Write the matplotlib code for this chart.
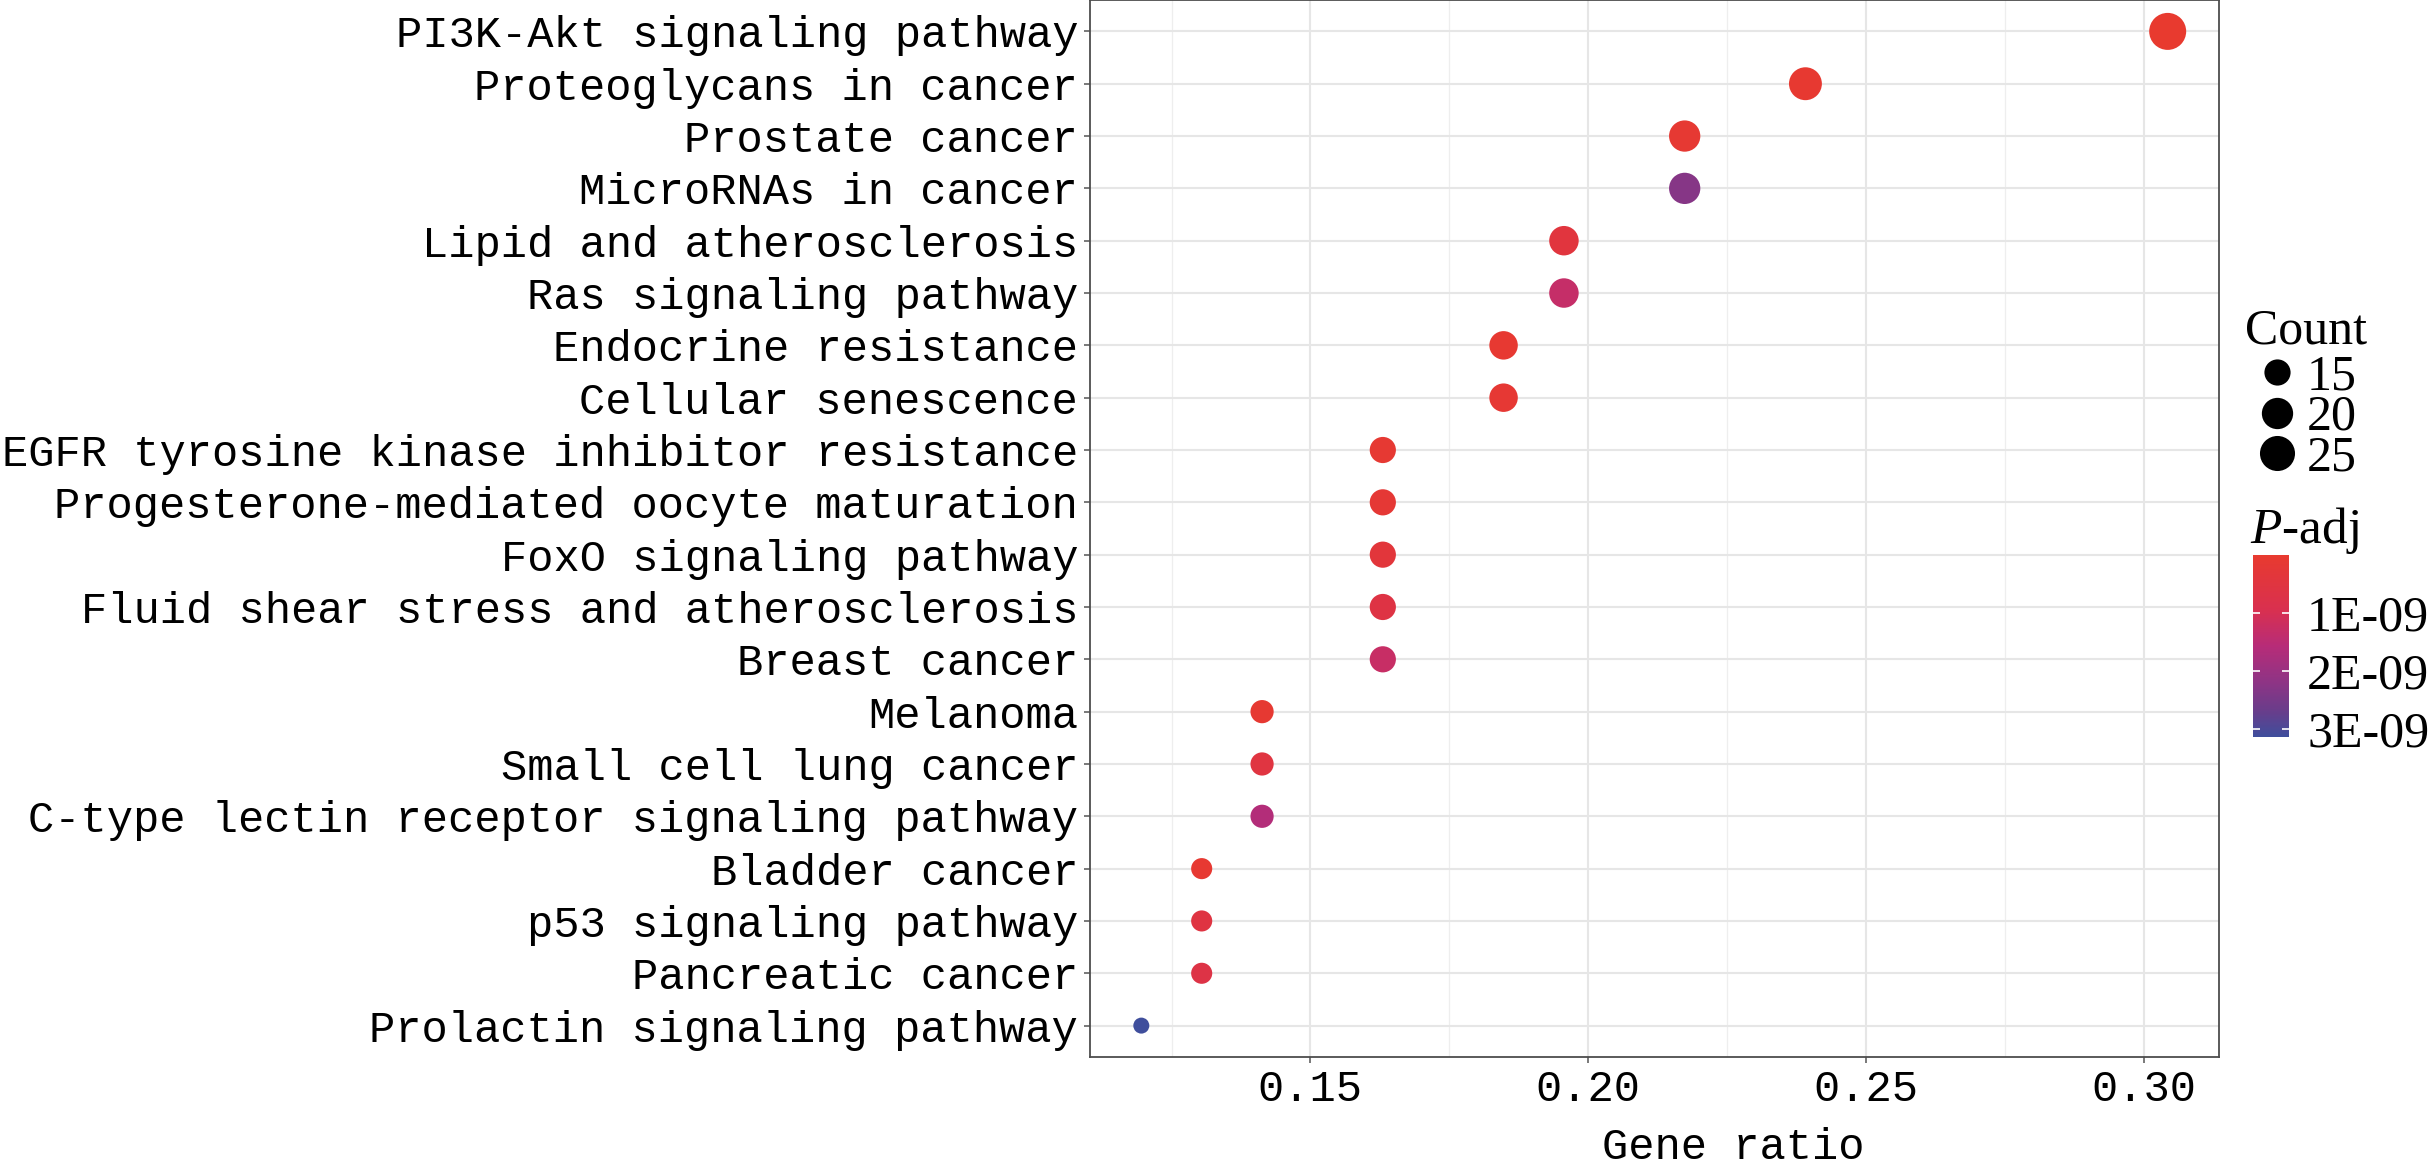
import numpy as np
import matplotlib
matplotlib.use("Agg")
import matplotlib.pyplot as plt
from matplotlib.colors import LinearSegmentedColormap, Normalize
from matplotlib.lines import Line2D

# KEGG enrichment results (top to bottom as shown)
pathways = [
    "PI3K-Akt signaling pathway",
    "Proteoglycans in cancer",
    "Prostate cancer",
    "MicroRNAs in cancer",
    "Lipid and atherosclerosis",
    "Ras signaling pathway",
    "Endocrine resistance",
    "Cellular senescence",
    "EGFR tyrosine kinase inhibitor resistance",
    "Progesterone-mediated oocyte maturation",
    "FoxO signaling pathway",
    "Fluid shear stress and atherosclerosis",
    "Breast cancer",
    "Melanoma",
    "Small cell lung cancer",
    "C-type lectin receptor signaling pathway",
    "Bladder cancer",
    "p53 signaling pathway",
    "Pancreatic cancer",
    "Prolactin signaling pathway",
]
counts = [28, 22, 20, 20, 18, 18, 17, 17, 15, 15, 15, 15, 15, 13, 13, 13, 12, 12, 12, 11]
gene_ratio = [c / 92 for c in counts]
p_adj = [1e-12, 6e-11, 1.2e-10, 2.3e-09, 4.6e-10, 1.32e-09, 8e-11, 1.5e-10,
         1.2e-10, 1.8e-10, 3.6e-10, 6.2e-10, 1.28e-09, 1e-10, 5.2e-10, 1.64e-09,
         9e-11, 5.6e-10, 6.8e-10, 3.14e-09]
size_breaks = [15, 20, 25]
cbar_ticks = [1e-9, 2e-9, 3e-9]
cbar_labels = ["1E-09", "2E-09", "3E-09"]

W, H = 2429, 1159
fig = plt.figure(figsize=(W / 100, H / 100), dpi=100)

def px_rect(x0, y0, x1, y1):
    return [x0 / W, 1 - y1 / H, (x1 - x0) / W, (y1 - y0) / H]

ax = fig.add_axes(px_rect(1090, 0, 2219, 1057))

cmap = LinearSegmentedColormap.from_list(
    "padj",
    [(0.0, "#E83A2F"), (0.3, "#D9304F"), (0.5, "#B72C78"),
     (0.7, "#8E3485"), (0.85, "#6B3C8A"), (1.0, "#3F4E9C")])
norm = Normalize(vmin=min(p_adj), vmax=max(p_adj))

cmin, cmax = min(counts), max(counts)
def diam_pt(c):
    return (16 + 21 * np.sqrt((c - cmin) / (cmax - cmin))) * 0.72

y = np.arange(len(pathways))
sizes = [diam_pt(c) ** 2 for c in counts]
sc = ax.scatter(gene_ratio, y, s=sizes, c=p_adj, cmap=cmap, norm=norm,
                linewidths=0, zorder=3)

lo, hi = min(gene_ratio), max(gene_ratio)
pad = 0.05 * (hi - lo)
ax.set_xlim(lo - pad, hi + pad)
ax.set_ylim(len(pathways) - 1 + 0.6, -0.6)

mono = "Liberation Mono"
ax.set_yticks(y)
ax.set_yticklabels(pathways, family=mono, fontsize=31.5)
ax.set_xticks([0.15, 0.20, 0.25, 0.30])
ax.set_xticklabels(["0.15", "0.20", "0.25", "0.30"], family=mono, fontsize=31.5)
ax.set_xticks([0.125, 0.175, 0.225, 0.275], minor=True)
ax.tick_params(which="major", length=4.5, width=1.1, color="#555555", pad=4)
ax.tick_params(which="minor", length=0)
ax.set_axisbelow(True)
ax.grid(which="major", color="#E6E6E6", linewidth=1.5)
ax.grid(which="minor", axis="x", color="#EEEEEE", linewidth=0.9)
for s in ax.spines.values():
    s.set_color("#4D4D4D")
    s.set_linewidth(1.3)

ax.set_xlabel("Gene ratio", family=mono, fontsize=31.5)
ax.xaxis.set_label_coords(0.57, -0.066)

serif = "Liberation Serif"
# size legend
fig.text(2245 / W, 1 - 344 / H, "Count", family=serif, fontsize=36,
         va="baseline", ha="left")
handles = [Line2D([], [], marker="o", ls="", color="black",
                  markersize=diam_pt(b), markeredgewidth=0) for b in size_breaks]
leg = fig.legend(handles, [str(b) for b in size_breaks],
                 loc="upper left", bbox_to_anchor=(2247 / W, 1 - 354 / H),
                 frameon=False, borderpad=0, borderaxespad=0,
                 handlelength=1.2, handletextpad=0.0, labelspacing=-0.12,
                 prop={"family": serif, "size": 36})

# colour legend
plt.rcParams["mathtext.fontset"] = "custom"
plt.rcParams["mathtext.it"] = "Liberation Serif:italic"
plt.rcParams["mathtext.rm"] = "Liberation Serif"
fig.text(2250 / W, 1 - 543 / H, r"$P$-adj", family=serif, fontsize=37,
         va="baseline", ha="left")

cax = fig.add_axes(px_rect(2253, 555, 2289, 737))
cb = fig.colorbar(sc, cax=cax)
cb.outline.set_visible(False)
cax.invert_yaxis()
cb.set_ticks(cbar_ticks)
cb.set_ticklabels(cbar_labels)
cax.tick_params(direction="in", color="white", length=5, width=1.2,
                left=True, right=True, labelleft=False, labelright=True, pad=13)
for t in cax.get_yticklabels():
    t.set_family(serif)
    t.set_fontsize(36)

fig.savefig("out.png", dpi=100)
